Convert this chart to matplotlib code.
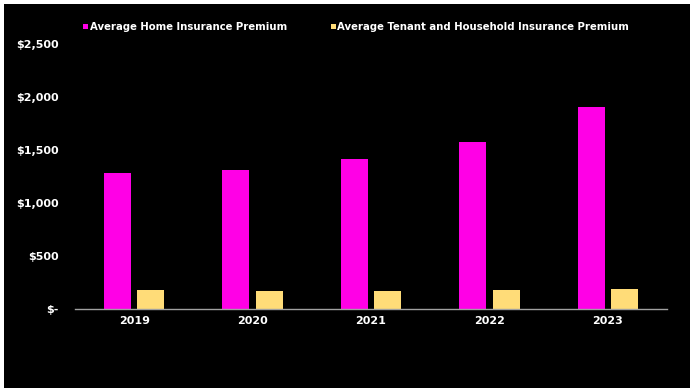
import matplotlib.pyplot as plt
import matplotlib.patches as mpatches
import numpy as np

years = ['2019', '2020', '2021', '2022', '2023']
home_premium = [1283, 1314, 1418, 1575, 1909]
tenant_premium = [179, 173, 173, 179, 185]
series_names = ['Average Home Insurance Premium',
                'Average Tenant and Household Insurance Premium']
y_ticks = [0, 500, 1000, 1500, 2000, 2500]
y_ticklabels = ['$-', '$500', '$1,000', '$1,500', '$2,000', '$2,500']

magenta = '#ff00e6'
yellow = '#ffdc78'

fig = plt.figure(figsize=(6.98, 3.92), dpi=100, facecolor='white')
# black panel with thin white frame
fig.patches.append(mpatches.Rectangle((4/698, 4/392), 686/698, 384/392,
                                      transform=fig.transFigure, facecolor='black',
                                      edgecolor='none', zorder=-10))

ax = fig.add_axes([75/698, 1-309/392, 592/698, 265/392])
ax.set_facecolor('black')
ax.set_zorder(1)

x = np.arange(len(years))
w = 0.228
b1 = ax.bar(x - 0.141, home_premium, w, color=magenta, label=series_names[0])
b2 = ax.bar(x + 0.141, tenant_premium, w, color=yellow, label=series_names[1])

ax.set_xlim(-0.5, len(years) - 0.5)
ax.set_ylim(0, 2500)
ax.set_yticks(y_ticks)
ax.set_yticklabels(y_ticklabels)
ax.set_xticks(x)
ax.set_xticklabels(years)
ax.tick_params(length=0, colors='white', labelsize=8)
ax.tick_params(axis='y', pad=12)
ax.tick_params(axis='x', pad=5)
for lab in ax.get_xticklabels() + ax.get_yticklabels():
    lab.set_fontweight('bold')

for s in ['top', 'right', 'left']:
    ax.spines[s].set_visible(False)
ax.spines['bottom'].set_color('#a0a0a0')
ax.spines['bottom'].set_linewidth(1)

leg = fig.legend(handles=[b1, b2], loc='center left', bbox_to_anchor=(74/698, 1-27/392),
                 ncol=2, frameon=False, handlelength=0.5, handleheight=0.5,
                 handletextpad=0.15, columnspacing=4.3,
                 prop={'weight': 'bold', 'size': 7.3})
leg.set_zorder(2)
for t in leg.get_texts():
    t.set_color('white')

fig.savefig('out.png', dpi=100, facecolor='white')
